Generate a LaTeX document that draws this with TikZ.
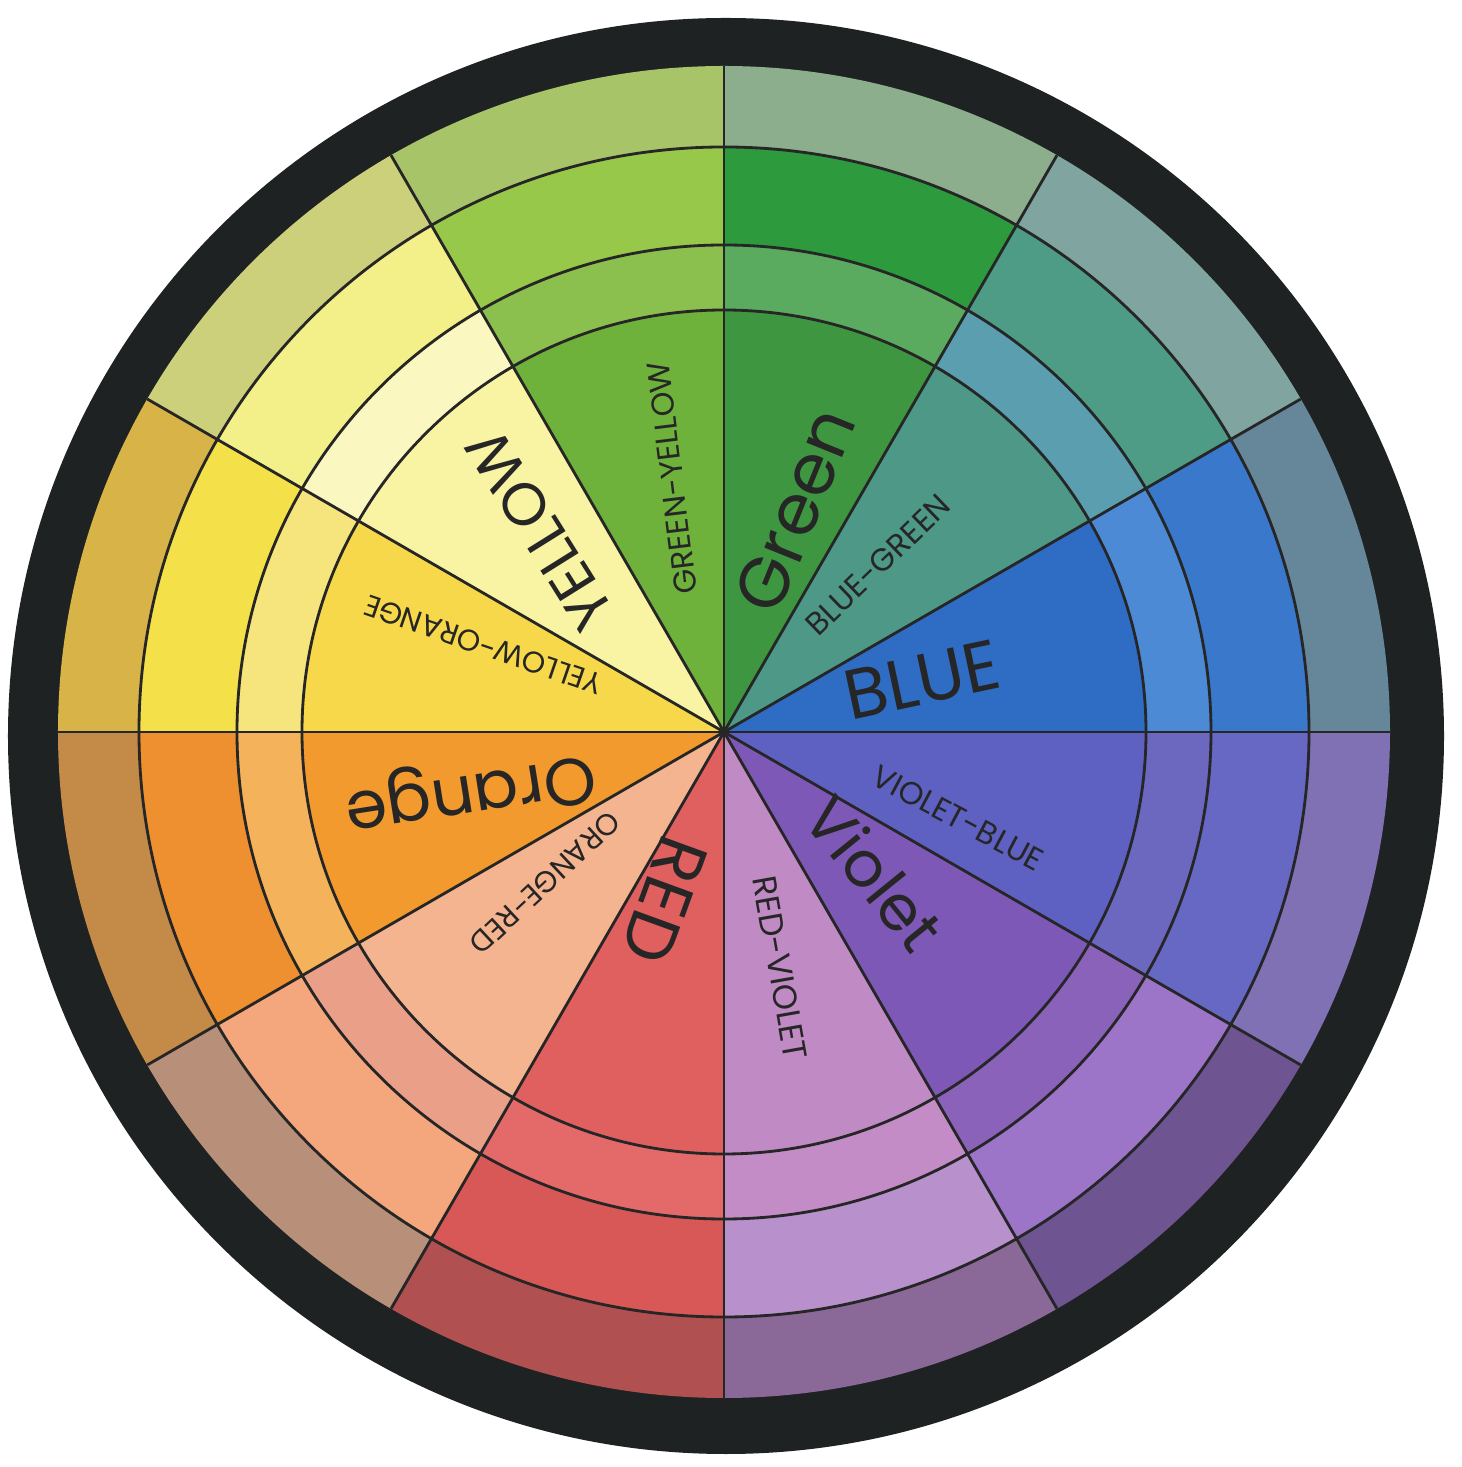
\documentclass[tikz,border=0pt]{standalone}
\usepackage{fontspec}
\setmainfont{Poppins}
\usepackage{tikz}
\usetikzlibrary{calc}

\definecolor{ringblack}{HTML}{1E2222}
% A = centre wedge, B = first ring, C = second ring, D = outer ring
\definecolor{blueA}{HTML}{2F6CC4}\definecolor{blueB}{HTML}{4C8AD6}\definecolor{blueC}{HTML}{3A78CC}\definecolor{blueD}{HTML}{66879A}
\definecolor{bluegreenA}{HTML}{4E9888}\definecolor{bluegreenB}{HTML}{5A9EB0}\definecolor{bluegreenC}{HTML}{4E9C86}\definecolor{bluegreenD}{HTML}{80A4A0}
\definecolor{greenA}{HTML}{3E9640}\definecolor{greenB}{HTML}{5AAA60}\definecolor{greenC}{HTML}{2E9A3E}\definecolor{greenD}{HTML}{8CAE8C}
\definecolor{greenyellowA}{HTML}{6EB23C}\definecolor{greenyellowB}{HTML}{8CC04E}\definecolor{greenyellowC}{HTML}{98C84A}\definecolor{greenyellowD}{HTML}{A8C468}
\definecolor{yellowA}{HTML}{F8F4A4}\definecolor{yellowB}{HTML}{FAF7C0}\definecolor{yellowC}{HTML}{F3F08A}\definecolor{yellowD}{HTML}{CDD07A}
\definecolor{yelloworangeA}{HTML}{F6D84A}\definecolor{yelloworangeB}{HTML}{F6E47C}\definecolor{yelloworangeC}{HTML}{F4E048}\definecolor{yelloworangeD}{HTML}{D8B448}
\definecolor{orangeA}{HTML}{F29A2E}\definecolor{orangeB}{HTML}{F4B25A}\definecolor{orangeC}{HTML}{EE9030}\definecolor{orangeD}{HTML}{C48A48}
\definecolor{orangeredA}{HTML}{F4B490}\definecolor{orangeredB}{HTML}{EAA088}\definecolor{orangeredC}{HTML}{F4A67C}\definecolor{orangeredD}{HTML}{B8907A}
\definecolor{redA}{HTML}{E06060}\definecolor{redB}{HTML}{E46A6A}\definecolor{redC}{HTML}{D85858}\definecolor{redD}{HTML}{B05050}
\definecolor{redvioletA}{HTML}{C08AC4}\definecolor{redvioletB}{HTML}{C48CC6}\definecolor{redvioletC}{HTML}{B890CC}\definecolor{redvioletD}{HTML}{8A6898}
\definecolor{violetA}{HTML}{7E58B6}\definecolor{violetB}{HTML}{8A62BA}\definecolor{violetC}{HTML}{9C74C8}\definecolor{violetD}{HTML}{6E5490}
\definecolor{violetblueA}{HTML}{5E60C2}\definecolor{violetblueB}{HTML}{6C68C0}\definecolor{violetblueC}{HTML}{6668C4}\definecolor{violetblueD}{HTML}{8070B4}

\tikzset{
    pen/.style={line width=0.8pt,color=black!85},
    lab/.style={font=\fontsize{#1}{#1}\selectfont,inner sep=0pt,text=black!85}
}

\begin{document}
\begin{tikzpicture}
        \fill[white] (-7.24,-7.35) rectangle (7.37,7.32);
        \useasboundingbox (-7.24,-7.35) rectangle (7.37,7.32);
        \fill[ringblack] (0.02,-0.04) circle[radius=7.18];
        \foreach \a/\col in {0/blue,30/bluegreen,60/green,90/greenyellow,120/yellow,150/yelloworange,
                             180/orange,210/orangered,240/red,270/redviolet,300/violet,330/violetblue}{
            \fill[\col A] (0,0) -- (\a:4.22) arc[start angle=\a, delta angle=30, radius=4.22] -- cycle;
            \foreach \ri/\ro/\k in {4.22/4.87/B,4.87/5.85/C,5.85/6.66/D}
                \fill[\col\k] (\a:\ri) arc[start angle=\a, delta angle=30, radius=\ri]
                    -- (\a+30:\ro) arc[start angle=\a+30, delta angle=-30, radius=\ro] -- cycle;
        }
        \foreach \r in {4.22,4.87,5.85}
            \draw[pen] (0,0) circle[radius=\r];
        \foreach \a in {0,30,...,330}
            \draw[pen] (0,0) -- (\a:6.66);

        \node[lab=20pt,rotate=12]  (blue)         at (1.98,0.52)   {BLUE};
        \node[lab=9pt,rotate=44]   (bluegreen)    at (1.54,1.67)   {BLUE-GREEN};
        \node[lab=20pt,rotate=68]  (green)        at (0.71,2.22)   {Green};
        \node[lab=9pt,rotate=97]   (greenyellow)  at (-0.52,2.54)  {GREEN-YELLOW};
        \node[lab=17pt,rotate=122] (yellow)       at (-1.84,2.02)  {YELLOW};
        \node[lab=8.5pt,rotate=161](yelloworange) at (-2.41,0.87)  {YELLOW-ORANGE};
        \node[lab=19pt,rotate=189] (orange)       at (-2.54,-0.58) {Orange};
        \node[lab=8.5pt,rotate=223](orangered)    at (-1.79,-1.51) {ORANGE-RED};
        \node[lab=20pt,rotate=250] (red)          at (-0.59,-1.68) {RED};
        \node[lab=9.5pt,rotate=280](redviolet)    at (0.56,-2.36)  {RED-VIOLET};
        \node[lab=18pt,rotate=-51] (violet)       at (1.51,-1.41)  {Violet};
        \node[lab=9pt,rotate=-28]  (violetblue)   at (2.34,-0.86)  {VIOLET-BLUE};
\end{tikzpicture}
\end{document}
